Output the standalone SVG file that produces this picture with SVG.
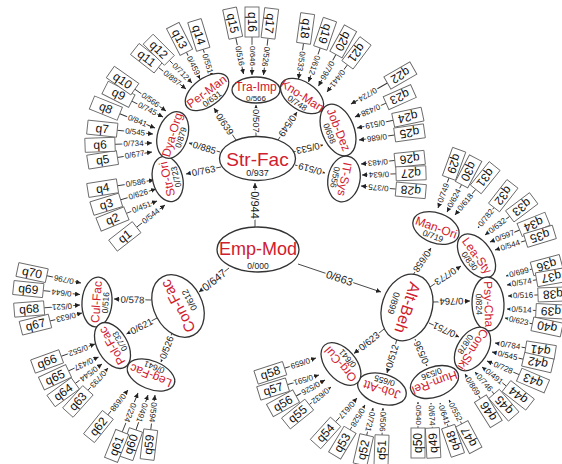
<svg xmlns="http://www.w3.org/2000/svg" width="562" height="464" viewBox="0 0 562 464">
<defs>
<marker id="ah" viewBox="0 0 6 6" refX="6" refY="3" markerWidth="5" markerHeight="5" orient="auto" markerUnits="userSpaceOnUse"><path d="M0,0L6,3L0,6z" fill="#222"/></marker>
<style>
.el{fill:#fff;stroke:#333;stroke-width:1.3}
.bx{fill:#fff;stroke:#666;stroke-width:0.9}
.nm{font-family:"Liberation Sans",Arial,sans-serif;fill:#d0202e;text-anchor:middle}
.n2{font-size:12px}
.vl{font-family:"Liberation Sans",Arial,sans-serif;fill:#222;text-anchor:middle;font-size:8.5px}
.qt{font-family:"Liberation Sans",Arial,sans-serif;font-size:12px;fill:#111;text-anchor:middle;dominant-baseline:central}
.ln{stroke:#333;stroke-width:0.9;fill:none;marker-end:url(#ah)}
.lb{font-family:"Liberation Sans",Arial,sans-serif;font-size:8px;fill:#222;text-anchor:middle;dominant-baseline:central;stroke:#fff;stroke-width:3px;paint-order:stroke}
.lb2{font-size:9.5px}
.lb3{font-size:11px}
</style>
</defs>
<rect width="562" height="464" fill="#fff"/>
<g id="connectors">
<line class="ln" x1="255" y1="227" x2="255" y2="183"/><text class="lb lb3" transform="translate(255 205) rotate(90)">0/944</text>
<line class="ln" x1="298" y1="264" x2="381" y2="292"/><text class="lb lb3" transform="translate(339.5 278) rotate(18.6)">0/863</text>
<line class="ln" x1="229" y1="268" x2="199" y2="292"/><text class="lb lb3" transform="translate(214 280) rotate(-38.7)">0/647</text>
<line class="ln" x1="220" y1="152" x2="189" y2="143"/><text class="lb lb2" transform="translate(204.5 147.5) rotate(16.2)">0/885</text>
<line class="ln" x1="221" y1="167" x2="186" y2="174"/><text class="lb lb2" transform="translate(203.5 170.5) rotate(-11.3)">0/763</text>
<line class="ln" x1="236" y1="140" x2="214" y2="108"/><text class="lb lb2" transform="translate(225 124) rotate(55.5)">0/639</text>
<line class="ln" x1="256" y1="137" x2="256" y2="105"/><text class="lb lb2" transform="translate(256 121) rotate(90)">0/507</text>
<line class="ln" x1="278" y1="140" x2="297" y2="112"/><text class="lb lb2" transform="translate(287.5 126) rotate(124.2)">0/549</text>
<line class="ln" x1="293" y1="152" x2="323" y2="145"/><text class="lb lb2" transform="translate(308 148.5) rotate(166.9)">0/533</text>
<line class="ln" x1="295" y1="165" x2="325" y2="173"/><text class="lb lb2" transform="translate(310 169) rotate(-165.1)">0/519</text>
<line class="ln" x1="413" y1="275" x2="431" y2="248"/><text class="lb lb2" transform="translate(422 261.5) rotate(123.7)">0/658</text>
<line class="ln" x1="430" y1="287" x2="461" y2="266"/><text class="lb lb2" transform="translate(445.5 276.5) rotate(145.9)">0/773</text>
<line class="ln" x1="433" y1="302" x2="470" y2="301"/><text class="lb lb2" transform="translate(451.5 301.5) rotate(178.5)">0/764</text>
<line class="ln" x1="429" y1="323" x2="459" y2="337"/><text class="lb lb2" transform="translate(444 330) rotate(-155)">0/751</text>
<line class="ln" x1="415" y1="339" x2="427" y2="366"/><text class="lb lb2" transform="translate(421 352.5) rotate(-114)">0/536</text>
<line class="ln" x1="397" y1="339" x2="387" y2="373"/><text class="lb lb2" transform="translate(392 356) rotate(-73.6)">0/512</text>
<line class="ln" x1="384" y1="329" x2="354" y2="353.5"/><text class="lb lb2" transform="translate(369 341) rotate(-39.2)">0/623</text>
<line class="ln" x1="151" y1="300" x2="114" y2="299"/><text class="lb lb2" transform="translate(132.5 299.5) rotate(1.6)">0/578</text>
<line class="ln" x1="157" y1="318" x2="126.5" y2="334"/><text class="lb lb2" transform="translate(141.5 326) rotate(-27.7)">0/621</text>
<line class="ln" x1="172" y1="333" x2="161" y2="362"/><text class="lb lb2" transform="translate(166.5 347.5) rotate(-69.2)">0/526</text>
<g transform="translate(165 205) rotate(-38)"><line class="ln" x1="-36" y1="0" x2="0" y2="0"/><text class="lb" x="-18">0/544</text></g>
<g transform="translate(157 201) rotate(-22)"><line class="ln" x1="-33" y1="0" x2="0" y2="0"/><text class="lb" x="-16.5">0/451</text></g>
<g transform="translate(156 189) rotate(-17)"><line class="ln" x1="-37" y1="0" x2="0" y2="0"/><text class="lb" x="-18.5">0/626</text></g>
<g transform="translate(154 180) rotate(-9)"><line class="ln" x1="-37" y1="0" x2="0" y2="0"/><text class="lb" x="-18.5">0/586</text></g>
<g transform="translate(152 152) rotate(-9)"><line class="ln" x1="-35" y1="0" x2="0" y2="0"/><text class="lb" x="-17.5">0/677</text></g>
<g transform="translate(152 143) rotate(-2)"><line class="ln" x1="-37" y1="0" x2="0" y2="0"/><text class="lb" x="-18.5">0/734</text></g>
<g transform="translate(153 134) rotate(6)"><line class="ln" x1="-36" y1="0" x2="0" y2="0"/><text class="lb" x="-18">0/545</text></g>
<g transform="translate(155 128) rotate(22)"><line class="ln" x1="-38" y1="0" x2="0" y2="0"/><text class="lb" x="-19">0/841</text></g>
<g transform="translate(163 117) rotate(27)"><line class="ln" x1="-35" y1="0" x2="0" y2="0"/><text class="lb" x="-17.5">0/745</text></g>
<g transform="translate(166 111) rotate(35)"><line class="ln" x1="-38" y1="0" x2="0" y2="0"/><text class="lb" x="-19">0/566</text></g>
<g transform="translate(186 89) rotate(38)"><line class="ln" x1="-35" y1="0" x2="0" y2="0"/><text class="lb" x="-17.5">0/897</text></g>
<g transform="translate(192 83) rotate(45)"><line class="ln" x1="-32" y1="0" x2="0" y2="0"/><text class="lb" x="-16">0/712</text></g>
<g transform="translate(200 79) rotate(63)"><line class="ln" x1="-30" y1="0" x2="0" y2="0"/><text class="lb" x="-15">0/459</text></g>
<g transform="translate(212 78) rotate(73)"><line class="ln" x1="-30" y1="0" x2="0" y2="0"/><text class="lb" x="-15">0/551</text></g>
<g transform="translate(243.5 74) rotate(78)"><line class="ln" x1="-37" y1="0" x2="0" y2="0"/><text class="lb" x="-18.5">0/516</text></g>
<g transform="translate(252 75) rotate(90)"><line class="ln" x1="-38" y1="0" x2="0" y2="0"/><text class="lb" x="-19">0/646</text></g>
<g transform="translate(263.5 75) rotate(97)"><line class="ln" x1="-37" y1="0" x2="0" y2="0"/><text class="lb" x="-18.5">0/526</text></g>
<g transform="translate(298.5 79) rotate(98)"><line class="ln" x1="-36" y1="0" x2="0" y2="0"/><text class="lb" x="-18">0/533</text></g>
<g transform="translate(308.5 82) rotate(109)"><line class="ln" x1="-36" y1="0" x2="0" y2="0"/><text class="lb" x="-18">0/612</text></g>
<g transform="translate(318.5 86) rotate(119)"><line class="ln" x1="-36" y1="0" x2="0" y2="0"/><text class="lb" x="-18">0/796</text></g>
<g transform="translate(327 92) rotate(127)"><line class="ln" x1="-34" y1="0" x2="0" y2="0"/><text class="lb" x="-17">0/441</text></g>
<g transform="translate(351 104) rotate(150)"><line class="ln" x1="-42" y1="0" x2="0" y2="0"/><text class="lb" x="-19">0/724</text></g>
<g transform="translate(355 117) rotate(156)"><line class="ln" x1="-34" y1="0" x2="0" y2="0"/><text class="lb" x="-17">0/438</text></g>
<g transform="translate(357 128) rotate(168)"><line class="ln" x1="-37" y1="0" x2="0" y2="0"/><text class="lb" x="-18.5">0/519</text></g>
<g transform="translate(359 140) rotate(172)"><line class="ln" x1="-36" y1="0" x2="0" y2="0"/><text class="lb" x="-18">0/686</text></g>
<g transform="translate(361 164) rotate(174)"><line class="ln" x1="-34" y1="0" x2="0" y2="0"/><text class="lb" x="-17">0/483</text></g>
<g transform="translate(362 175) rotate(178)"><line class="ln" x1="-34" y1="0" x2="0" y2="0"/><text class="lb" x="-17">0/634</text></g>
<g transform="translate(361 186) rotate(-175)"><line class="ln" x1="-35" y1="0" x2="0" y2="0"/><text class="lb" x="-17.5">0/375</text></g>
<g transform="translate(438 208) rotate(110)"><line class="ln" x1="-32" y1="0" x2="0" y2="0"/><text class="lb" x="-16" transform="rotate(180 -16 0)">0/749</text></g>
<g transform="translate(447 212) rotate(118)"><line class="ln" x1="-31" y1="0" x2="0" y2="0"/><text class="lb" x="-15.5" transform="rotate(180 -15.5 0)">0/624</text></g>
<g transform="translate(455 215) rotate(129)"><line class="ln" x1="-33" y1="0" x2="0" y2="0"/><text class="lb" x="-16.5" transform="rotate(180 -16.5 0)">0/618</text></g>
<g transform="translate(478 228) rotate(128)"><line class="ln" x1="-26" y1="0" x2="0" y2="0"/><text class="lb" x="-13" transform="rotate(180 -13 0)">0/782</text></g>
<g transform="translate(485 235) rotate(143)"><line class="ln" x1="-31" y1="0" x2="0" y2="0"/><text class="lb" x="-15.5" transform="rotate(180 -15.5 0)">0/632</text></g>
<g transform="translate(490 242) rotate(158)"><line class="ln" x1="-32" y1="0" x2="0" y2="0"/><text class="lb" x="-16" transform="rotate(180 -16 0)">0/597</text></g>
<g transform="translate(495 250) rotate(163)"><line class="ln" x1="-32" y1="0" x2="0" y2="0"/><text class="lb" x="-16" transform="rotate(180 -16 0)">0/544</text></g>
<g transform="translate(506 276) rotate(165)"><line class="ln" x1="-27" y1="0" x2="0" y2="0"/><text class="lb" x="-13.5" transform="rotate(180 -13.5 0)">0/699</text></g>
<g transform="translate(507 285) rotate(170)"><line class="ln" x1="-30" y1="0" x2="0" y2="0"/><text class="lb" x="-15" transform="rotate(180 -15 0)">0/574</text></g>
<g transform="translate(508 296) rotate(178)"><line class="ln" x1="-30" y1="0" x2="0" y2="0"/><text class="lb" x="-15" transform="rotate(180 -15 0)">0/516</text></g>
<g transform="translate(507 309) rotate(-177)"><line class="ln" x1="-29" y1="0" x2="0" y2="0"/><text class="lb" x="-14.5" transform="rotate(180 -14.5 0)">0/514</text></g>
<g transform="translate(505 318) rotate(-168)"><line class="ln" x1="-28" y1="0" x2="0" y2="0"/><text class="lb" x="-14" transform="rotate(180 -14 0)">0/623</text></g>
<g transform="translate(495 343) rotate(-171)"><line class="ln" x1="-31" y1="0" x2="0" y2="0"/><text class="lb" x="-15.5" transform="rotate(180 -15.5 0)">0/784</text></g>
<g transform="translate(492 352) rotate(-167)"><line class="ln" x1="-32" y1="0" x2="0" y2="0"/><text class="lb" x="-16" transform="rotate(180 -16 0)">0/545</text></g>
<g transform="translate(487 361) rotate(-157)"><line class="ln" x1="-35" y1="0" x2="0" y2="0"/><text class="lb" x="-17.5" transform="rotate(180 -17.5 0)">0/728</text></g>
<g transform="translate(482 367) rotate(-142)"><line class="ln" x1="-31" y1="0" x2="0" y2="0"/><text class="lb" x="-15.5" transform="rotate(180 -15.5 0)">0/491</text></g>
<g transform="translate(475 372) rotate(-131)"><line class="ln" x1="-29" y1="0" x2="0" y2="0"/><text class="lb" x="-14.5" transform="rotate(180 -14.5 0)">0/746</text></g>
<g transform="translate(465 374) rotate(-122)"><line class="ln" x1="-29" y1="0" x2="0" y2="0"/><text class="lb" x="-14.5" transform="rotate(180 -14.5 0)">0/869</text></g>
<g transform="translate(449 400) rotate(-118)"><line class="ln" x1="-27" y1="0" x2="0" y2="0"/><text class="lb" x="-13.5" transform="rotate(180 -13.5 0)">0/552</text></g>
<g transform="translate(440 403) rotate(-109)"><line class="ln" x1="-25" y1="0" x2="0" y2="0"/><text class="lb" x="-12.5" transform="rotate(180 -12.5 0)">0/641</text></g>
<g transform="translate(431 403) rotate(-93)"><line class="ln" x1="-25" y1="0" x2="0" y2="0"/><text class="lb" x="-12.5" transform="rotate(180 -12.5 0)">0/674</text></g>
<g transform="translate(418 402) rotate(-90)"><line class="ln" x1="-26" y1="0" x2="0" y2="0"/><text class="lb" x="-13" transform="rotate(180 -13 0)">0/540</text></g>
<g transform="translate(383 408) rotate(-88)"><line class="ln" x1="-27" y1="0" x2="0" y2="0"/><text class="lb" x="-13.5" transform="rotate(180 -13.5 0)">0/506</text></g>
<g transform="translate(373 408) rotate(-77)"><line class="ln" x1="-28" y1="0" x2="0" y2="0"/><text class="lb" x="-14" transform="rotate(180 -14 0)">0/721</text></g>
<g transform="translate(365 405) rotate(-59)"><line class="ln" x1="-29" y1="0" x2="0" y2="0"/><text class="lb" x="-14.5" transform="rotate(180 -14.5 0)">0/528</text></g>
<g transform="translate(357 398) rotate(-48)"><line class="ln" x1="-32" y1="0" x2="0" y2="0"/><text class="lb" x="-16" transform="rotate(180 -16 0)">0/617</text></g>
<g transform="translate(331 387) rotate(-39)"><line class="ln" x1="-28" y1="0" x2="0" y2="0"/><text class="lb" x="-14" transform="rotate(180 -14 0)">0/632</text></g>
<g transform="translate(325 380) rotate(-29)"><line class="ln" x1="-33" y1="0" x2="0" y2="0"/><text class="lb" x="-16.5" transform="rotate(180 -16.5 0)">0/526</text></g>
<g transform="translate(319 375) rotate(-17)"><line class="ln" x1="-33" y1="0" x2="0" y2="0"/><text class="lb" x="-16.5" transform="rotate(180 -16.5 0)">0/591</text></g>
<g transform="translate(316 358) rotate(-18)"><line class="ln" x1="-33" y1="0" x2="0" y2="0"/><text class="lb" x="-16.5" transform="rotate(180 -16.5 0)">0/659</text></g>
<g transform="translate(155 395) rotate(-83)"><line class="ln" x1="-35" y1="0" x2="0" y2="0"/><text class="lb" x="-17.5" transform="rotate(180 -17.5 0)">0/594</text></g>
<g transform="translate(148 395) rotate(-71)"><line class="ln" x1="-37" y1="0" x2="0" y2="0"/><text class="lb" x="-18.5" transform="rotate(180 -18.5 0)">0/491</text></g>
<g transform="translate(138 393) rotate(-68)"><line class="ln" x1="-42" y1="0" x2="0" y2="0"/><text class="lb" x="-21" transform="rotate(180 -21 0)">0/224</text></g>
<g transform="translate(128 390) rotate(-51)"><line class="ln" x1="-32" y1="0" x2="0" y2="0"/><text class="lb" x="-16" transform="rotate(180 -16 0)">0/698</text></g>
<g transform="translate(108 368) rotate(-48)"><line class="ln" x1="-30" y1="0" x2="0" y2="0"/><text class="lb" x="-15" transform="rotate(180 -15 0)">0/793</text></g>
<g transform="translate(102 364) rotate(-36)"><line class="ln" x1="-33" y1="0" x2="0" y2="0"/><text class="lb" x="-16.5" transform="rotate(180 -16.5 0)">0/544</text></g>
<g transform="translate(98.5 357) rotate(-25)"><line class="ln" x1="-33" y1="0" x2="0" y2="0"/><text class="lb" x="-16.5" transform="rotate(180 -16.5 0)">0/437</text></g>
<g transform="translate(95 344) rotate(-20)"><line class="ln" x1="-36" y1="0" x2="0" y2="0"/><text class="lb" x="-18" transform="rotate(180 -18 0)">0/552</text></g>
<g transform="translate(82 313) rotate(-14)"><line class="ln" x1="-33" y1="0" x2="0" y2="0"/><text class="lb" x="-16.5" transform="rotate(180 -16.5 0)">0/633</text></g>
<g transform="translate(80 305) rotate(-4.5)"><line class="ln" x1="-36" y1="0" x2="0" y2="0"/><text class="lb" x="-18" transform="rotate(180 -18 0)">0/521</text></g>
<g transform="translate(80 294.5) rotate(6)"><line class="ln" x1="-37" y1="0" x2="0" y2="0"/><text class="lb" x="-18.5" transform="rotate(180 -18.5 0)">0/644</text></g>
<g transform="translate(81 283) rotate(12)"><line class="ln" x1="-35" y1="0" x2="0" y2="0"/><text class="lb" x="-17.5" transform="rotate(180 -17.5 0)">0/796</text></g>
</g>
<g id="Emp-Mod" transform="translate(258 249.5)"><ellipse class="el" rx="41" ry="22.5"/><text class="nm" y="5" font-size="18">Emp-Mod</text><text class="vl" y="19" font-size="9.5">0/000</text></g>
<g id="Str-Fac" transform="translate(257.5 158.5)"><ellipse class="el" rx="38" ry="22"/><text class="nm" y="7" font-size="19">Str-Fac</text><text class="vl" y="17.5" style="font-size:9px">0/937</text></g>
<g id="Alt-Beh" transform="translate(407 307.5) rotate(108)"><ellipse class="el" rx="34" ry="25"/><text class="nm" y="5" font-size="16">Alt-Beh</text><text class="vl" y="17" style="font-size:9px">0/899</text></g>
<g id="Con-Fac" transform="translate(178 306) rotate(-118)"><ellipse class="el" rx="33" ry="24"/><text class="nm" y="5" font-size="15">Con-Fac</text><text class="vl" y="16" style="font-size:9px">0/612</text></g>
<g id="Str-Ori" transform="translate(167.7 179) rotate(-104)"><ellipse class="el" rx="23" ry="15"/><text class="nm n2" y="3.5">Str-Ori</text><text class="vl" y="11.5">0/723</text></g>
<g id="Dya-Org" transform="translate(172.7 135) rotate(-73)"><ellipse class="el" rx="24" ry="15"/><text class="nm n2" y="3.5">Dya-Org</text><text class="vl" y="11.5">0/879</text></g>
<g id="Per-Man" transform="translate(207 92) rotate(-36.5)"><ellipse class="el" rx="25" ry="14"/><text class="nm n2" y="3.5">Per-Man</text><text class="vl" y="11.5">0/631</text></g>
<g id="Tra-Imp" transform="translate(256 90)"><ellipse class="el" rx="24" ry="13"/><text class="nm n2" y="1">Tra-Imp</text><text class="vl" y="10.5" style="font-size:8px">0/566</text></g>
<g id="Kno-Man" transform="translate(302 96) rotate(33)"><ellipse class="el" rx="24" ry="14"/><text class="nm n2" y="3.5">Kno-Man</text><text class="vl" y="11.5">0/748</text></g>
<g id="Job-Dez" transform="translate(338 130) rotate(68)"><ellipse class="el" rx="27" ry="16"/><text class="nm n2" y="3.5">Job-Dez</text><text class="vl" y="12">0/698</text></g>
<g id="IT-Sys" transform="translate(344 179) rotate(101)"><ellipse class="el" rx="23" ry="16"/><text class="nm n2" y="3.5">IT-Sys</text><text class="vl" y="12">0/556</text></g>
<g id="Man-Ori" transform="translate(436 228) rotate(20)"><ellipse class="el" rx="24" ry="15"/><text class="nm n2" y="3.5">Man-Ori</text><text class="vl" y="11.5">0/719</text></g>
<g id="Lea-Sty" transform="translate(476.5 256) rotate(54)"><ellipse class="el" rx="25" ry="15"/><text class="nm n2" y="3.5">Lea-Sty</text><text class="vl" y="11.5">0/830</text></g>
<g id="Psy-Cha" transform="translate(488 304) rotate(88)"><ellipse class="el" rx="27" ry="16"/><text class="nm n2" y="3.5">Psy-Cha</text><text class="vl" y="12">0/824</text></g>
<g id="Com-Ski" transform="translate(472.5 349) rotate(123)"><ellipse class="el" rx="24" ry="15"/><text class="nm n2" y="3.5">Com-Ski</text><text class="vl" y="11.5">0/878</text></g>
<g id="Hum-Rel" transform="translate(434.5 382) rotate(160)"><ellipse class="el" rx="25" ry="15"/><text class="nm n2" y="3.5">Hum-Rel</text><text class="vl" y="11.5">0/536</text></g>
<g id="Job-Att" transform="translate(382 389) rotate(197)"><ellipse class="el" rx="25" ry="15"/><text class="nm n2" y="3.5">Job-Att</text><text class="vl" y="11.5">0/655</text></g>
<g id="Org-Cul" transform="translate(341 364) rotate(229)"><ellipse class="el" rx="25" ry="15"/><text class="nm n2" y="3.5">Org-Cul</text><text class="vl" y="11.5">0/641</text></g>
<g id="Cul-Fac" transform="translate(97 302) rotate(-86)"><ellipse class="el" rx="25" ry="15"/><text class="nm n2" y="3.5">Cul-Fac</text><text class="vl" y="11.5">0/516</text></g>
<g id="Pol-Fac" transform="translate(112.5 345.5) rotate(-120)"><ellipse class="el" rx="25" ry="15"/><text class="nm n2" y="3.5">Pol-Fac</text><text class="vl" y="11.5">0/733</text></g>
<g id="Leg-Fac" transform="translate(151 375) rotate(202)"><ellipse class="el" rx="25" ry="14"/><text class="nm n2" y="3.5">Leg-Fac</text><text class="vl" y="11.5">0/641</text></g>
<g id="q1" transform="translate(165 205) rotate(-38)"><rect class="bx" x="-66" y="-7" width="30" height="14"/><text class="qt" x="-51">q1</text></g>
<g id="q2" transform="translate(157 201) rotate(-22)"><rect class="bx" x="-63" y="-7" width="30" height="14"/><text class="qt" x="-48">q2</text></g>
<g id="q3" transform="translate(156 189) rotate(-17)"><rect class="bx" x="-67" y="-7" width="30" height="14"/><text class="qt" x="-52">q3</text></g>
<g id="q4" transform="translate(154 180) rotate(-9)"><rect class="bx" x="-67" y="-7" width="30" height="14"/><text class="qt" x="-52">q4</text></g>
<g id="q5" transform="translate(152 152) rotate(-9)"><rect class="bx" x="-65" y="-7" width="30" height="14"/><text class="qt" x="-50">q5</text></g>
<g id="q6" transform="translate(152 143) rotate(-2)"><rect class="bx" x="-67" y="-7" width="30" height="14"/><text class="qt" x="-52">q6</text></g>
<g id="q7" transform="translate(153 134) rotate(6)"><rect class="bx" x="-66" y="-7" width="30" height="14"/><text class="qt" x="-51">q7</text></g>
<g id="q8" transform="translate(155 128) rotate(22)"><rect class="bx" x="-68" y="-7" width="30" height="14"/><text class="qt" x="-53">q8</text></g>
<g id="q9" transform="translate(163 117) rotate(27)"><rect class="bx" x="-65" y="-7" width="30" height="14"/><text class="qt" x="-50">q9</text></g>
<g id="q10" transform="translate(166 111) rotate(35)"><rect class="bx" x="-68" y="-7" width="30" height="14"/><text class="qt" x="-53">q10</text></g>
<g id="q11" transform="translate(186 89) rotate(38)"><rect class="bx" x="-65" y="-7" width="30" height="14"/><text class="qt" x="-50">q11</text></g>
<g id="q12" transform="translate(192 83) rotate(45)"><rect class="bx" x="-62" y="-7" width="30" height="14"/><text class="qt" x="-47">q12</text></g>
<g id="q13" transform="translate(200 79) rotate(63)"><rect class="bx" x="-60" y="-7" width="30" height="14"/><text class="qt" x="-45">q13</text></g>
<g id="q14" transform="translate(212 78) rotate(73)"><rect class="bx" x="-60" y="-7" width="30" height="14"/><text class="qt" x="-45">q14</text></g>
<g id="q15" transform="translate(243.5 74) rotate(78)"><rect class="bx" x="-67" y="-7" width="30" height="14"/><text class="qt" x="-52">q15</text></g>
<g id="q16" transform="translate(252 75) rotate(90)"><rect class="bx" x="-68" y="-7" width="30" height="14"/><text class="qt" x="-53">q16</text></g>
<g id="q17" transform="translate(263.5 75) rotate(97)"><rect class="bx" x="-67" y="-7" width="30" height="14"/><text class="qt" x="-52">q17</text></g>
<g id="q18" transform="translate(298.5 79) rotate(98)"><rect class="bx" x="-66" y="-7" width="30" height="14"/><text class="qt" x="-51">q18</text></g>
<g id="q19" transform="translate(308.5 82) rotate(109)"><rect class="bx" x="-66" y="-7" width="30" height="14"/><text class="qt" x="-51">q19</text></g>
<g id="q20" transform="translate(318.5 86) rotate(119)"><rect class="bx" x="-66" y="-7" width="30" height="14"/><text class="qt" x="-51">q20</text></g>
<g id="q21" transform="translate(327 92) rotate(127)"><rect class="bx" x="-64" y="-7" width="30" height="14"/><text class="qt" x="-49">q21</text></g>
<g id="q22" transform="translate(351 104) rotate(150)"><rect class="bx" x="-72" y="-7" width="30" height="14"/><text class="qt" x="-57">q22</text></g>
<g id="q23" transform="translate(355 117) rotate(156)"><rect class="bx" x="-64" y="-7" width="30" height="14"/><text class="qt" x="-49">q23</text></g>
<g id="q24" transform="translate(357 128) rotate(168)"><rect class="bx" x="-67" y="-7" width="30" height="14"/><text class="qt" x="-52">q24</text></g>
<g id="q25" transform="translate(359 140) rotate(172)"><rect class="bx" x="-66" y="-7" width="30" height="14"/><text class="qt" x="-51">q25</text></g>
<g id="q26" transform="translate(361 164) rotate(174)"><rect class="bx" x="-64" y="-7" width="30" height="14"/><text class="qt" x="-49">q26</text></g>
<g id="q27" transform="translate(362 175) rotate(178)"><rect class="bx" x="-64" y="-7" width="30" height="14"/><text class="qt" x="-49">q27</text></g>
<g id="q28" transform="translate(361 186) rotate(-175)"><rect class="bx" x="-65" y="-7" width="30" height="14"/><text class="qt" x="-50">q28</text></g>
<g id="q29" transform="translate(438 208) rotate(110)"><rect class="bx" x="-62" y="-7" width="30" height="14"/><text class="qt" x="-47">q29</text></g>
<g id="q30" transform="translate(447 212) rotate(118)"><rect class="bx" x="-61" y="-7" width="30" height="14"/><text class="qt" x="-46">q30</text></g>
<g id="q31" transform="translate(455 215) rotate(129)"><rect class="bx" x="-63" y="-7" width="30" height="14"/><text class="qt" x="-48">q31</text></g>
<g id="q32" transform="translate(478 228) rotate(128)"><rect class="bx" x="-56" y="-7" width="30" height="14"/><text class="qt" x="-41">q32</text></g>
<g id="q33" transform="translate(485 235) rotate(143)"><rect class="bx" x="-61" y="-7" width="30" height="14"/><text class="qt" x="-46">q33</text></g>
<g id="q34" transform="translate(490 242) rotate(158)"><rect class="bx" x="-62" y="-7" width="30" height="14"/><text class="qt" x="-47">q34</text></g>
<g id="q35" transform="translate(495 250) rotate(163)"><rect class="bx" x="-62" y="-7" width="30" height="14"/><text class="qt" x="-47">q35</text></g>
<g id="q36" transform="translate(506 276) rotate(165)"><rect class="bx" x="-57" y="-7" width="30" height="14"/><text class="qt" x="-42">q36</text></g>
<g id="q37" transform="translate(507 285) rotate(170)"><rect class="bx" x="-60" y="-7" width="30" height="14"/><text class="qt" x="-45">q37</text></g>
<g id="q38" transform="translate(508 296) rotate(178)"><rect class="bx" x="-60" y="-7" width="30" height="14"/><text class="qt" x="-45">q38</text></g>
<g id="q39" transform="translate(507 309) rotate(-177)"><rect class="bx" x="-59" y="-7" width="30" height="14"/><text class="qt" x="-44">q39</text></g>
<g id="q40" transform="translate(505 318) rotate(-168)"><rect class="bx" x="-58" y="-7" width="30" height="14"/><text class="qt" x="-43">q40</text></g>
<g id="q41" transform="translate(495 343) rotate(-171)"><rect class="bx" x="-61" y="-7" width="30" height="14"/><text class="qt" x="-46">q41</text></g>
<g id="q42" transform="translate(492 352) rotate(-167)"><rect class="bx" x="-62" y="-7" width="30" height="14"/><text class="qt" x="-47">q42</text></g>
<g id="q43" transform="translate(487 361) rotate(-157)"><rect class="bx" x="-65" y="-7" width="30" height="14"/><text class="qt" x="-50">q43</text></g>
<g id="q44" transform="translate(482 367) rotate(-142)"><rect class="bx" x="-61" y="-7" width="30" height="14"/><text class="qt" x="-46">q44</text></g>
<g id="q45" transform="translate(475 372) rotate(-131)"><rect class="bx" x="-59" y="-7" width="30" height="14"/><text class="qt" x="-44">q45</text></g>
<g id="q46" transform="translate(465 374) rotate(-122)"><rect class="bx" x="-59" y="-7" width="30" height="14"/><text class="qt" x="-44">q46</text></g>
<g id="q47" transform="translate(449 400) rotate(-118)"><rect class="bx" x="-57" y="-7" width="30" height="14"/><text class="qt" x="-42">q47</text></g>
<g id="q48" transform="translate(440 403) rotate(-109)"><rect class="bx" x="-55" y="-7" width="30" height="14"/><text class="qt" x="-40">q48</text></g>
<g id="q49" transform="translate(431 403) rotate(-93)"><rect class="bx" x="-55" y="-7" width="30" height="14"/><text class="qt" x="-40">q49</text></g>
<g id="q50" transform="translate(418 402) rotate(-90)"><rect class="bx" x="-56" y="-7" width="30" height="14"/><text class="qt" x="-41">q50</text></g>
<g id="q51" transform="translate(383 408) rotate(-88)"><rect class="bx" x="-57" y="-7" width="30" height="14"/><text class="qt" x="-42">q51</text></g>
<g id="q52" transform="translate(373 408) rotate(-77)"><rect class="bx" x="-58" y="-7" width="30" height="14"/><text class="qt" x="-43">q52</text></g>
<g id="q53" transform="translate(365 405) rotate(-59)"><rect class="bx" x="-59" y="-7" width="30" height="14"/><text class="qt" x="-44">q53</text></g>
<g id="q54" transform="translate(357 398) rotate(-48)"><rect class="bx" x="-62" y="-7" width="30" height="14"/><text class="qt" x="-47">q54</text></g>
<g id="q55" transform="translate(331 387) rotate(-39)"><rect class="bx" x="-58" y="-7" width="30" height="14"/><text class="qt" x="-43">q55</text></g>
<g id="q56" transform="translate(325 380) rotate(-29)"><rect class="bx" x="-63" y="-7" width="30" height="14"/><text class="qt" x="-48">q56</text></g>
<g id="q57" transform="translate(319 375) rotate(-17)"><rect class="bx" x="-63" y="-7" width="30" height="14"/><text class="qt" x="-48">q57</text></g>
<g id="q58" transform="translate(316 358) rotate(-18)"><rect class="bx" x="-63" y="-7" width="30" height="14"/><text class="qt" x="-48">q58</text></g>
<g id="q59" transform="translate(155 395) rotate(-83)"><rect class="bx" x="-65" y="-7" width="30" height="14"/><text class="qt" x="-50">q59</text></g>
<g id="q60" transform="translate(148 395) rotate(-71)"><rect class="bx" x="-67" y="-7" width="30" height="14"/><text class="qt" x="-52">q60</text></g>
<g id="q61" transform="translate(138 393) rotate(-68)"><rect class="bx" x="-72" y="-7" width="30" height="14"/><text class="qt" x="-57">q61</text></g>
<g id="q62" transform="translate(128 390) rotate(-51)"><rect class="bx" x="-62" y="-7" width="30" height="14"/><text class="qt" x="-47">q62</text></g>
<g id="q63" transform="translate(108 368) rotate(-48)"><rect class="bx" x="-60" y="-7" width="30" height="14"/><text class="qt" x="-45">q63</text></g>
<g id="q64" transform="translate(102 364) rotate(-36)"><rect class="bx" x="-63" y="-7" width="30" height="14"/><text class="qt" x="-48">q64</text></g>
<g id="q65" transform="translate(98.5 357) rotate(-25)"><rect class="bx" x="-63" y="-7" width="30" height="14"/><text class="qt" x="-48">q65</text></g>
<g id="q66" transform="translate(95 344) rotate(-20)"><rect class="bx" x="-66" y="-7" width="30" height="14"/><text class="qt" x="-51">q66</text></g>
<g id="q67" transform="translate(82 313) rotate(-14)"><rect class="bx" x="-63" y="-7" width="30" height="14"/><text class="qt" x="-48">q67</text></g>
<g id="q68" transform="translate(80 305) rotate(-4.5)"><rect class="bx" x="-66" y="-7" width="30" height="14"/><text class="qt" x="-51">q68</text></g>
<g id="q69" transform="translate(80 294.5) rotate(6)"><rect class="bx" x="-67" y="-7" width="30" height="14"/><text class="qt" x="-52">q69</text></g>
<g id="q70" transform="translate(81 283) rotate(12)"><rect class="bx" x="-65" y="-7" width="30" height="14"/><text class="qt" x="-50">q70</text></g>
</svg>
